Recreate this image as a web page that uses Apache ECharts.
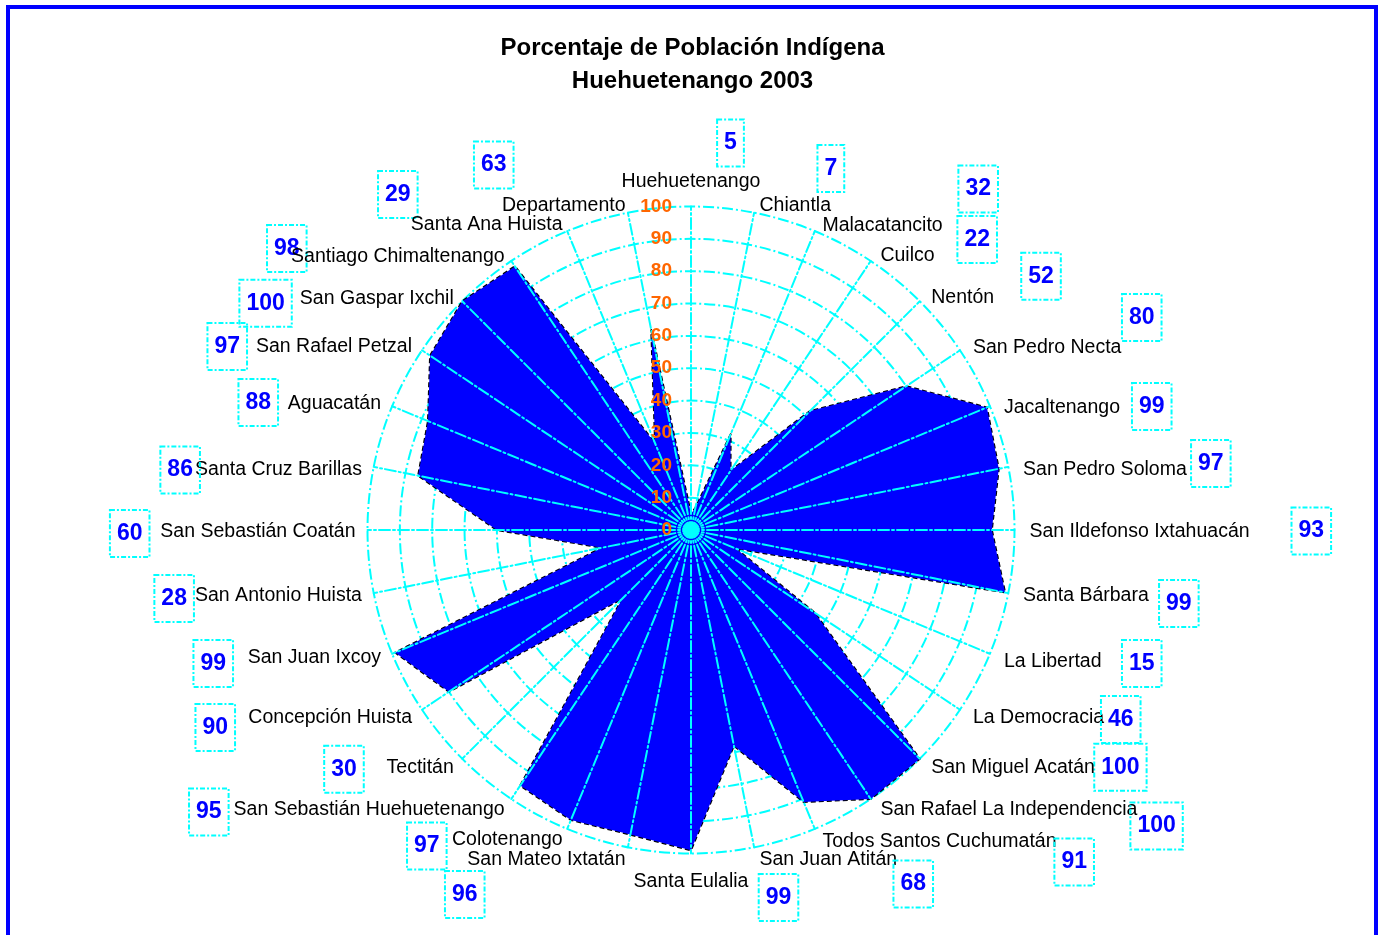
<!DOCTYPE html>
<html>
<head>
<meta charset="utf-8">
<title>Porcentaje de Población Indígena - Huehuetenango 2003</title>
<script src="https://cdn.jsdelivr.net/npm/echarts@6/dist/echarts.min.js"></script>
<style>
  html, body { margin: 0; padding: 0; width: 1385px; height: 935px; overflow: hidden; background: #ffffff; }
  #chart { position: absolute; left: 0; top: 0; width: 1385px; height: 935px; }
  #marco { position: absolute; left: 6px; top: 5px; width: 1364px; height: 1000px; border: 4px solid #0000ff; pointer-events: none; }
</style>
</head>
<body>
<div id="chart"></div>
<div id="marco"></div>
<script>
// Municipios, read clockwise starting at the top of the radar
const municipios = [
  'Huehuetenango', 'Chiantla', 'Malacatancito', 'Cuilco', 'Nentón',
  'San Pedro Necta', 'Jacaltenango', 'San Pedro Soloma', 'San Ildefonso Ixtahuacán',
  'Santa Bárbara', 'La Libertad', 'La Democracia', 'San Miguel Acatán',
  'San Rafael La Independencia', 'Todos Santos Cuchumatán', 'San Juan Atitán',
  'Santa Eulalia', 'San Mateo Ixtatán', 'Colotenango', 'San Sebastián Huehuetenango',
  'Tectitán', 'Concepción Huista', 'San Juan Ixcoy', 'San Antonio Huista',
  'San Sebastián Coatán', 'Santa Cruz Barillas', 'Aguacatán', 'San Rafael Petzal',
  'San Gaspar Ixchil', 'Santiago Chimaltenango', 'Santa Ana Huista', 'Departamento'
];

// Percentage of indigenous population per municipio (same order)
const porcentajeIndigena = [
  5, 7, 32, 22, 52, 80, 99, 97, 93, 99, 15, 46, 100, 100, 91, 68,
  99, 96, 97, 95, 30, 90, 99, 28, 60, 86, 88, 97, 100, 98, 29, 63
];

// Radial scale of the chart
const escalaMin = 0;
const escalaMax = 100;
const escalaPaso = 10;

// Where each value tag sits next to its municipio name:
// [horizontal distance from the name's anchored edge, vertical shift from the name's centre]
const posicionEtiqueta = [
  [79, -38.5], [58, -37.5], [136, -37], [77, -16.5], [90, -21.5], [149, -30],
  [128, -1], [168, -6], [262, -1], [136, 8], [118, 2], [128, 2], [163, 0],
  [250, 16], [232, 20], [134, 24], [175, 16], [141, 34.5], [116, 6], [276, 2],
  [90, 2], [177, 10], [148, 6], [168, 3], [206, 1.5], [162, 0.5], [103, -1],
  [165, 0], [162, 4.5], [198, -8.5], [145, -30.5], [112, -41]
];
// Small downward nudge of each municipio name from its default anchor (px)
const ajusteNombre = [
  -2, 5, 6, 5, 5, 4, 6, 5, 2, 0, 3, 1, 0, 1, 2, 1,
  5, 1, 0, 1, 0, 1, -1, 0, 2, 5, 2, 3, 6, 6, 5, 5
];

const FUENTE = '"Liberation Sans", Arial, Helvetica, sans-serif';
const CIAN = '#00ffff';
const n = municipios.length;

// ECharts lays radar indicators out counter-clockwise; feed them in reverse after the first
const orden = [0];
for (let k = n - 1; k >= 1; k--) orden.push(k);

const NOMBRE_ALTO = 22;   // line height of a municipio name
const CAJA_MEDIO = 23.5;  // half the height of a value tag
const BASE = CAJA_MEDIO - NOMBRE_ALTO / 2;
const SANGRIA_DERECHA = 3; // extra gap for names on the right-hand side

function lado(i) {
  if (i === 0) return 'top';
  if (i === n / 2) return 'bottom';
  return i < n / 2 ? 'right' : 'left';
}

// Rich-text styles: one set per municipio so every value tag can be placed on its own
const rich = {
  n: { fontSize: 19.5, fontFamily: FUENTE, color: '#000000', lineHeight: NOMBRE_ALTO },
  p: { width: SANGRIA_DERECHA, lineHeight: NOMBRE_ALTO }
};
const tagArriba = [];
municipios.forEach(function (nombre, i) {
  const L = lado(i);
  const s = posicionEtiqueta[i][0] + (L === 'right' ? SANGRIA_DERECHA : 0);
  const dy = posicionEtiqueta[i][1];
  const k = ajusteNombre[i];
  const arriba = L === 'top' || (L !== 'bottom' && dy <= 0);
  let hA, hC;
  if (arriba) {
    hA = BASE - dy;
    hC = L === 'top' ? -k : hA - 2 * k;
  } else {
    hC = dy + BASE;
    hA = L === 'bottom' ? k : hC + 2 * k;
  }
  tagArriba[i] = arriba;
  rich['v' + i] = {
    fontSize: 23, fontWeight: 'bold', fontFamily: FUENTE, color: '#0000ff',
    height: 23, padding: [12, 7, 12, 7], lineHeight: 0,
    borderColor: CIAN, borderWidth: 2, borderType: [5, 2, 2, 2],
    verticalAlign: arriba ? 'top' : 'bottom'
  };
  rich['s' + i] = { width: s, lineHeight: Math.max(0, arriba ? hA : hC) };
  rich['b' + i] = { width: 0, lineHeight: Math.max(0, arriba ? hC : hA) };
});

function rotulo(nombre) {
  const i = municipios.indexOf(nombre);
  const caja = '{v' + i + '|' + porcentajeIndigena[i] + '}';
  const hueco = '{s' + i + '|}';
  const filaValor = lado(i) === 'left' ? caja + hueco : hueco + caja;
  const filaNombre = (lado(i) === 'right' ? '{p|}' : '') + '{n|' + nombre + '}';
  const blanco = '{b' + i + '|}';
  return tagArriba[i]
    ? filaValor + '\n' + filaNombre + '\n' + blanco
    : blanco + '\n' + filaNombre + '\n' + filaValor;
}

const indicadores = orden.map(function (k) {
  return { name: municipios[k], min: escalaMin, max: escalaMax };
});
// Overlay axes: the radial tick labels only on the vertical (first) spoke
const estiloEscala = {
  show: true, color: '#ff6600', fontWeight: 'bold', fontSize: 19,
  fontFamily: FUENTE, margin: 19
};
const indicadoresEje = orden.map(function (k, pos) {
  const ind = { name: municipios[k], min: escalaMin, max: escalaMax };
  if (pos === 0) ind.axisLabel = estiloEscala;
  return ind;
});

const lineaCian = { color: CIAN, width: 2, type: [11, 3, 2, 3], dashOffset: 3 };
const centro = [691, 530];
const radio = 323.5;
const divisiones = (escalaMax - escalaMin) / escalaPaso;

const chart = echarts.init(document.getElementById('chart'), null, { renderer: 'canvas' });
chart.setOption({
  backgroundColor: '#ffffff',
  animation: false,
  title: {
    text: 'Porcentaje de Población Indígena\nHuehuetenango 2003',
    left: 'center',
    top: 27,
    textStyle: { fontSize: 24, fontWeight: 'bold', color: '#000000', fontFamily: FUENTE, lineHeight: 33 }
  },
  radar: [
    {
      // rings and municipio names, underneath the polygon
      center: centro,
      radius: radio,
      startAngle: 90,
      shape: 'circle',
      splitNumber: divisiones,
      indicator: indicadores,
      nameGap: 12,
      axisName: { formatter: rotulo, rich: rich, color: '#000000', fontFamily: FUENTE, fontSize: 19.5 },
      splitLine: { lineStyle: lineaCian },
      splitArea: { show: false },
      axisLine: { show: false },
      axisTick: { show: false },
      axisLabel: { show: false },
      z: 0
    },
    {
      // spokes and scale labels drawn over the polygon
      center: centro,
      radius: radio,
      startAngle: 90,
      shape: 'circle',
      splitNumber: divisiones,
      indicator: indicadoresEje,
      axisName: { show: false },
      splitLine: { show: false },
      splitArea: { show: false },
      axisLine: { show: true, lineStyle: lineaCian },
      axisTick: { show: false },
      axisLabel: { show: false, color: '#ff6600', fontWeight: 'bold', fontSize: 19, fontFamily: FUENTE, margin: 19 },
      z: 5
    }
  ],
  series: [
    {
      type: 'radar',
      radarIndex: 0,
      z: 2,
      symbol: 'none',
      silent: true,
      lineStyle: { color: '#000000', width: 2, type: [5, 3] },
      areaStyle: { color: '#0000ff', opacity: 1 },
      itemStyle: { color: '#0000ff' },
      data: [{ name: 'Porcentaje indígena', value: orden.map(function (k) { return porcentajeIndigena[k]; }) }]
    }
  ]
});
</script>
</body>
</html>
